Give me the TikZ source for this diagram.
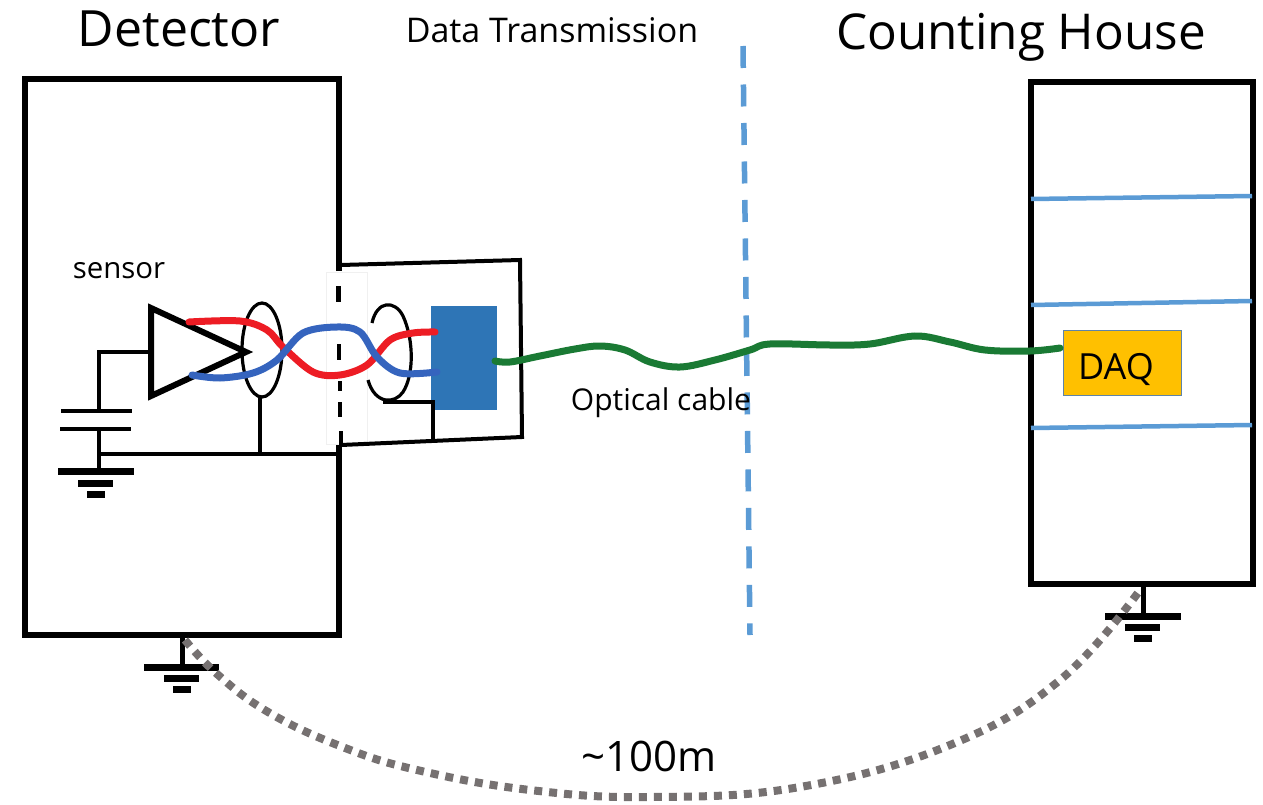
\documentclass[tikz,border=0pt]{standalone}
\usepackage{fontspec}
\setmainfont{Open Sans}
\definecolor{shelfblue}{HTML}{5B9BD5}
\definecolor{modblue}{HTML}{2E75B6}
\definecolor{wirered}{HTML}{ED1C24}
\definecolor{wireblue}{HTML}{3564BE}
\definecolor{cablegreen}{HTML}{1A7A34}
\definecolor{daqyellow}{HTML}{FFC000}
\definecolor{daqedge}{HTML}{5F84A8}
\definecolor{dotgray}{HTML}{767171}
\tikzset{
 heavy/.style={draw=black,line width=6.5pt},
 thin wire/.style={draw=black,line width=4pt},
 ring/.style={draw=black,line width=3.2pt},
 shelf/.style={draw=shelfblue,line width=4.5pt},
 twist/.style={line width=7pt,line cap=round},
 gbar/.style={draw=black,line width=7pt},
 label/.style={inner sep=0pt,text=black,anchor=center},
}
\begin{document}
\begin{tikzpicture}[x=1pt,y=-1pt]
\useasboundingbox (0,0) rectangle (1263,805);
\coordinate (dtl) at (25,79); \coordinate (dtr) at (339,79);
\coordinate (dbl) at (25,635); \coordinate (dbr) at (339,635);
\coordinate (gap1) at (339,271); \coordinate (gap2) at (339,445);
\draw[heavy,line join=miter] (gap1) -- (dtr) -- (dtl) -- (dbl) -- (dbr) -- (gap2);
\draw[draw=black!6,line width=0.6pt] (326,272) rectangle (367,444);
\draw[draw=black,line width=4.5pt] (338.5,286) -- (338.5,302) (339,344) -- (339,360) (340,381) -- (340,391) (340,402) -- (340,417) (341,431) -- (341,445);
\draw[thin wire,line join=miter] (341,265) -- (520,260) -- (522,437) -- (341,445);
\node[draw=none,fill=modblue,minimum width=66pt,minimum height=104pt,inner sep=0pt] (tx) at (464,358) {};
\draw[heavy] (1031,82) rectangle (1253,584);
\draw[shelf] (1031,199) -- (1252,196);
\draw[shelf] (1031,305) -- (1252,301);
\draw[shelf] (1031,428) -- (1252,425);
\node[draw=daqedge,fill=daqyellow,line width=1pt,minimum width=118pt,minimum height=65pt,inner sep=0pt] (daq) at (1122,362.5) {};
\node[label,font=\fontsize{36}{40}\selectfont] (daqt) at (1116,370) {DAQ};
\draw[draw=shelfblue,line width=5.5pt,dash pattern=on 22pt off 16.5pt] (743,46) -- (750,635);
\coordinate (a1) at (151,308); \coordinate (a2) at (151,396); \coordinate (a3) at (246,352);
\draw[draw=black,line width=6pt,line join=miter] (a1) -- (a3) -- (a2) -- cycle;
\coordinate (batt) at (99,352);
\draw[thin wire] (a1 |- a3) -- (batt) -- (99,411);
\draw[thin wire] (61,411) -- (132,411);
\draw[thin wire] (60,429) -- (131,429);
\draw[thin wire] (99,429) -- (99,471);
\draw[thin wire] (99,454) -- (339,454);
\draw[gbar] (58,471) -- (134,471);
\draw[gbar] (78,483) -- (113,483);
\draw[gbar] (87,494) -- (105,494);
\draw[ring] (262,350) ellipse [x radius=20, y radius=47];
\draw[thin wire,line width=3.2pt] (260,397) -- (260,454);
\draw[ring] (372,323) .. controls (377,300) and (395,300) .. (403,316) .. controls (414,340) and (414,375) .. (403,392) .. controls (395,404) and (375,405) .. (368,380);
\draw[thin wire,line width=3.2pt] (383,402) -- (433,402) -- (433,439);
\draw[twist,wirered] plot[smooth,tension=0.55] coordinates {(189,322) (240,321) (267,330) (283,347) (313,372) (340,375) (367,365) (390,340) (413,333) (435,332)};
\draw[twist,wireblue] plot[smooth,tension=0.55] coordinates {(192,375) (220,378) (253,373) (277,360) (303,333) (337,327) (360,332) (377,357) (400,373) (437,372)};
\draw[draw=cablegreen,line width=7pt,line cap=round] plot[smooth,tension=0.6] coordinates {(495,361) (510,362) (540,356) (575,349) (600,346) (625,350) (650,362) (680,367) (715,360) (750,350) (770,344) (830,345) (870,344) (915,336) (950,342) (985,350) (1030,351) (1060,348)};
\coordinate (gl) at (182,635); \coordinate (gr) at (1143,584);
\draw[thin wire,line width=5pt] (gl) -- (182,667);
\draw[gbar] (144,667) -- (219,667);
\draw[gbar] (164,678) -- (199,678);
\draw[gbar] (173,689) -- (191,689);
\draw[thin wire,line width=5pt] (gr) -- (1143,616);
\draw[gbar] (1105,616) -- (1181,616);
\draw[gbar] (1125,627) -- (1160,627);
\draw[gbar] (1134,638) -- (1152,638);
\draw[draw=dotgray,line width=8pt,dash pattern=on 8pt off 7pt] plot[smooth,tension=0.7] coordinates {(185,640) (217,674) (268,712) (340,746) (417,770) (530,790) (650,797) (800,787) (950,745) (1060,680) (1140,590)};
\node[label,font=\fontsize{50}{56}\selectfont] (det) at (179,29) {Detector};
\node[label,font=\fontsize{34}{38}\selectfont] (dt) at (552,30) {Data Transmission};
\node[label,font=\fontsize{49.4}{56}\selectfont] (ch) at (1021,37) {Counting House};
\node[label,font=\fontsize{29.4}{34}\selectfont] (sn) at (119,271) {sensor};
\node[label,font=\fontsize{30}{34}\selectfont] (oc) at (661,403) {Optical cable};
\node[label,font=\fontsize{42}{46}\selectfont] (dist) at (649,756) {\textasciitilde100m};
\end{tikzpicture}
\end{document}
